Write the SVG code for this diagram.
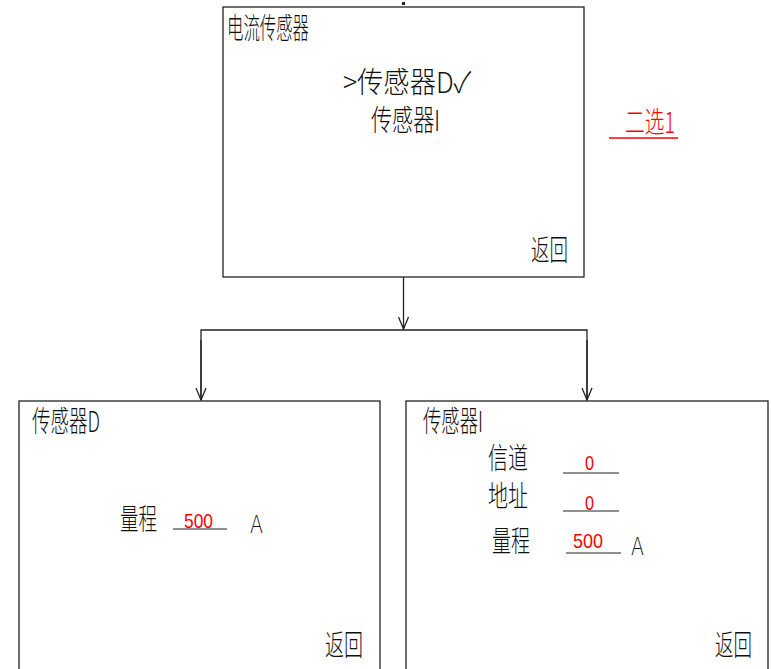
<svg xmlns="http://www.w3.org/2000/svg" width="771" height="669" viewBox="0 0 771 669">
<style>
.box{fill:#fff;stroke:#222;stroke-width:1.3}
.t{font-family:"Noto Sans CJK SC","Liberation Sans",sans-serif;fill:#111;font-size:29px;font-weight:300}
.r{font-family:"Liberation Sans","Noto Sans CJK SC",sans-serif;fill:#f00;font-size:21px}
.a{font-family:"DejaVu Sans",sans-serif;fill:#111;font-size:24px;font-weight:200}
.ul{stroke:#222;stroke-width:1.2}
.con{stroke:#222;stroke-width:1.3;fill:none}
</style>
<defs>
<marker id="arr" markerWidth="14" markerHeight="12" refX="13" refY="6" orient="auto" markerUnits="userSpaceOnUse" viewBox="0 0 14 12">
<path d="M1,1 L13,6 L1,11" fill="none" stroke="#222" stroke-width="1.3"/>
</marker>
</defs>
<rect x="0" y="0" width="771" height="669" fill="#fff"/>
<g id="connectors">
<rect x="402" y="2" width="3" height="3" fill="#222"/>
<line class="con" x1="403.5" y1="277" x2="403.5" y2="329" marker-end="url(#arr)"/>
<polyline class="con" points="201,400 201,330 587,330 587,400"/>
<line class="con" x1="201" y1="340" x2="201" y2="400" marker-end="url(#arr)"/>
<line class="con" x1="587" y1="340" x2="587" y2="400" marker-end="url(#arr)"/>
</g>
<g id="node-main">
<rect class="box" x="223" y="7" width="361" height="270"/>
<text class="t" x="227" y="39" font-size="24" textLength="82" lengthAdjust="spacingAndGlyphs">电流传感器</text>
<text class="t" x="343" y="93" textLength="128" lengthAdjust="spacingAndGlyphs">&gt;传感器D✓</text>
<text class="t" x="371" y="131" font-size="27" textLength="69" lengthAdjust="spacingAndGlyphs">传感器I</text>
<text class="t" x="531" y="261" textLength="37" lengthAdjust="spacingAndGlyphs">返回</text>
</g>
<g id="note">
<text class="t" x="625" y="133" style="fill:#f00" textLength="50" lengthAdjust="spacingAndGlyphs">二选1</text>
<line x1="609" y1="138" x2="678" y2="138" stroke="#f00" stroke-width="1.3"/>
</g>
<g id="node-d">
<rect class="box" x="19" y="401" width="361" height="280"/>
<text class="t" x="32" y="432" textLength="68" lengthAdjust="spacingAndGlyphs">传感器D</text>
<text class="t" x="120" y="530" textLength="37" lengthAdjust="spacingAndGlyphs">量程</text>
<text class="r" x="184" y="528" textLength="29" lengthAdjust="spacingAndGlyphs">500</text>
<line class="ul" x1="173" y1="529" x2="227" y2="529"/>
<text class="a" x="250" y="533" textLength="13" lengthAdjust="spacingAndGlyphs">A</text>
<text class="t" x="325" y="656" textLength="38" lengthAdjust="spacingAndGlyphs">返回</text>
</g>
<g id="node-i">
<rect class="box" x="406" y="401" width="362" height="280"/>
<text class="t" x="423" y="432" textLength="60" lengthAdjust="spacingAndGlyphs">传感器I</text>
<text class="t" x="488" y="469" textLength="40" lengthAdjust="spacingAndGlyphs">信道</text>
<text class="r" x="585" y="470" textLength="9" lengthAdjust="spacingAndGlyphs">0</text>
<line class="ul" x1="563" y1="473" x2="619" y2="473"/>
<text class="t" x="488" y="507" textLength="40" lengthAdjust="spacingAndGlyphs">地址</text>
<text class="r" x="585" y="510" textLength="9" lengthAdjust="spacingAndGlyphs">0</text>
<line class="ul" x1="563" y1="511" x2="619" y2="511"/>
<text class="t" x="492" y="552" textLength="38" lengthAdjust="spacingAndGlyphs">量程</text>
<text class="r" x="573" y="548" textLength="30" lengthAdjust="spacingAndGlyphs">500</text>
<line class="ul" x1="566" y1="553" x2="621" y2="553"/>
<text class="a" x="631" y="555" textLength="13" lengthAdjust="spacingAndGlyphs">A</text>
<text class="t" x="715" y="656" font-size="26" textLength="37" lengthAdjust="spacingAndGlyphs">返回</text>
</g>
</svg>
